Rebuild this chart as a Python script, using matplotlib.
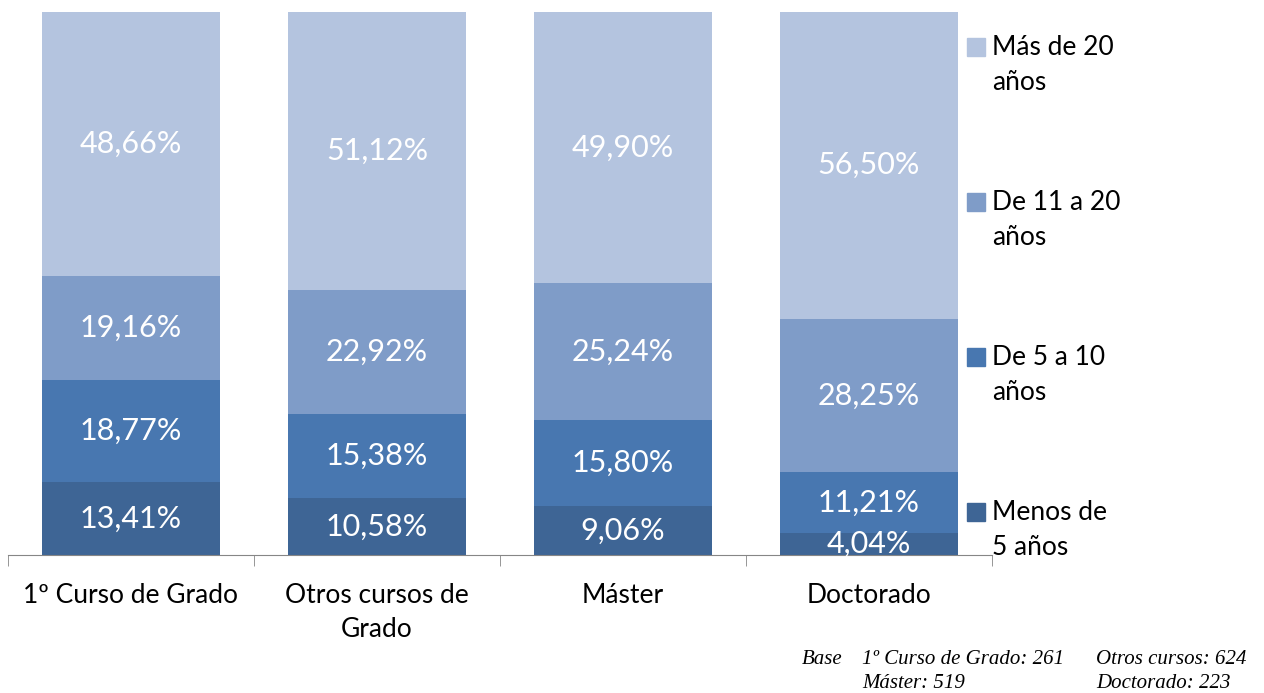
import matplotlib.pyplot as plt
import numpy as np
from matplotlib.patches import Rectangle

categories = ['1º Curso de Grado', 'Otros cursos de\nGrado', 'Máster', 'Doctorado']
series_names = ['Menos de\n5 años', 'De 5 a 10\naños', 'De 11 a 20\naños', 'Más de 20\naños']
menos_5 = [13.41, 10.58, 9.06, 4.04]
de_5_10 = [18.77, 15.38, 15.80, 11.21]
de_11_20 = [19.16, 22.92, 25.24, 28.25]
mas_20 = [48.66, 51.12, 49.90, 56.50]
colors = ['#3e6595', '#4877b0', '#7f9cc8', '#b4c4df']

plt.rcParams['font.family'] = ['Lato', 'DejaVu Sans']

W, H = 1264, 693
fig = plt.figure(figsize=(12.64, 6.93), dpi=100)
ax = fig.add_axes([0.0063, 0.199, 0.7785, 0.784])

x = np.arange(len(categories))
bottom = np.zeros(len(categories))
for vals, col in zip([menos_5, de_5_10, de_11_20, mas_20], colors):
    vals = np.array(vals)
    ax.bar(x, vals, width=0.72, bottom=bottom, color=col, edgecolor='none')
    for xi, b, v in zip(x, bottom, vals):
        ax.text(xi, b + v / 2, f'{v:.2f}%'.replace('.', ','), ha='center', va='center',
                color='white', fontsize=22)
    bottom += vals

ax.set_xlim(-0.5, len(categories) - 0.5)
ax.set_ylim(0, 100)
for s in ['top', 'right', 'left']:
    ax.spines[s].set_visible(False)
ax.spines['bottom'].set_color('#868686')
ax.set_yticks([])
ax.set_xticks(x)
ax.set_xticklabels(categories, fontsize=19, linespacing=1.45)
ax.tick_params(axis='x', which='major', length=0, pad=20)
ax.set_xticks(np.arange(len(categories) + 1) - 0.5, minor=True)
ax.tick_params(axis='x', which='minor', length=8, color='#868686')

# legend drawn by hand: square beside first line, two-line labels
for i, (name, col) in enumerate(zip(series_names[::-1], colors[::-1])):
    yc = 47 + i * 155
    fig.patches.append(Rectangle((967 / W, 1 - (yc + 9) / H), 18 / W, 18 / H,
                                 transform=fig.transFigure, color=col))
    fig.text(992 / W, 1 - (yc - 12) / H, name, va='top', ha='left', fontsize=19,
             linespacing=1.5)

fn = dict(fontsize=15, style='italic', family='Liberation Serif')
fig.text(802 / W, 1 - 660 / H, 'Base', va='center', **fn)
fig.text(862 / W, 1 - 660 / H, '1º Curso de Grado: 261', va='center', **fn)
fig.text(1096 / W, 1 - 660 / H, 'Otros cursos: 624', va='center', **fn)
fig.text(862 / W, 1 - 683 / H, 'Máster: 519', va='center', **fn)
fig.text(1096 / W, 1 - 683 / H, 'Doctorado: 223', va='center', **fn)

fig.savefig('out.png', dpi=100)
